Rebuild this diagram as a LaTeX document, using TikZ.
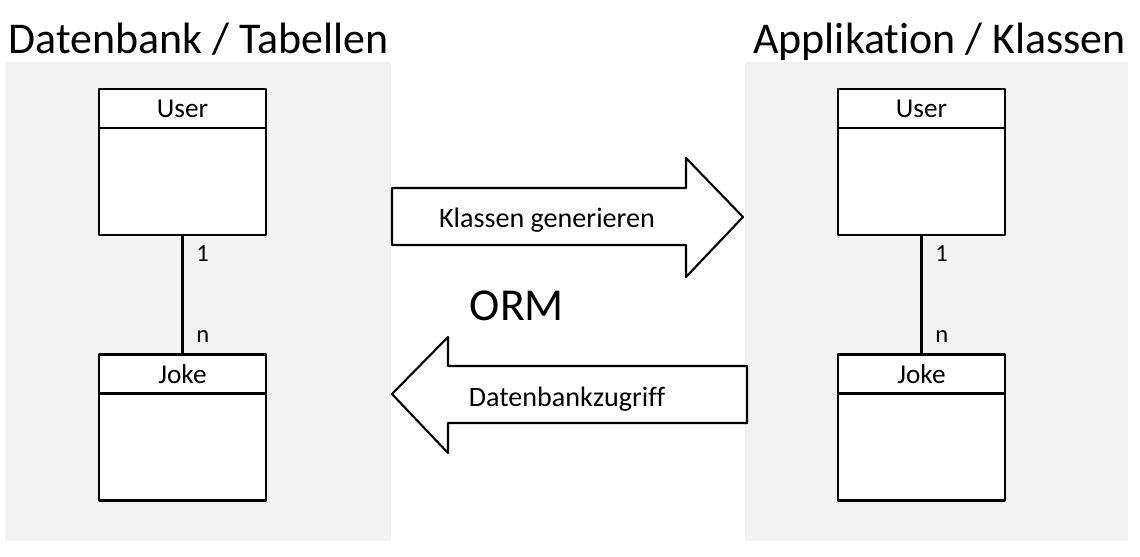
\documentclass[tikz,border=0pt]{standalone}
\usepackage{fontspec}
\setmainfont{Carlito}[Ligatures=NoCommon]
\usepackage{tikz}
\usetikzlibrary{positioning}

\definecolor{panelgray}{HTML}{F2F2F2}

\begin{document}
\begin{tikzpicture}[
	x=0.02cm, y=-0.02cm,
	line cap=round,
	line join=round,
	title/.style={font=\fontsize{25}{25}\selectfont, anchor=base west, inner sep=0pt},
	hdr/.style={draw, fill=white, line width=1.2pt, minimum width=3.34cm, minimum height=0.78cm, inner sep=0pt, outer sep=0pt, font=\fontsize{15.5}{15.5}\selectfont},
	bdy/.style={draw, fill=white, line width=1.2pt, minimum width=3.34cm, minimum height=2.14cm, inner sep=0pt, outer sep=0pt},
	mult/.style={font=\fontsize{14}{14}\selectfont, anchor=base west, inner sep=0pt},
	bigarrow/.style={draw, fill=white, line width=1.2pt},
	arrowlbl/.style={font=\fontsize{16}{16}\selectfont, anchor=base, inner sep=0pt}
	]
	
	\useasboundingbox (0,0) rectangle (1140,556);
	
	% panels
	\fill[panelgray] (5,62) rectangle (391,541);
	\fill[panelgray] (745,62) rectangle (1128,541);
	
	\node[title] (tl) at (8,53) {Datenbank / Tabellen};
	\node[title] (tr) at (753,53) {Applikation / Klassen};
	
	% Tabellen
	\node[hdr] (userL) at (182.5,108.5) {User};
	\node[bdy, below=0pt of userL] (userLb) {};
	\node[hdr] (jokeL) at (182.5,374) {Joke};
	\node[bdy, below=0pt of jokeL] (jokeLb) {};
	\draw[line width=1.2pt] (userLb.south) -- (jokeL.north);
	\node[mult] (oneL) at (196,261) {1};
	\node[mult] (nL) at (196,342) {n};
	
	% Klassen
	\node[hdr] (userR) at (921.5,108.5) {User};
	\node[bdy, below=0pt of userR] (userRb) {};
	\node[hdr] (jokeR) at (921.5,374) {Joke};
	\node[bdy, below=0pt of jokeR] (jokeRb) {};
	\draw[line width=1.2pt] (userRb.south) -- (jokeR.north);
	\node[mult] (oneR) at (935,261) {1};
	\node[mult] (nR) at (935,342) {n};
	
	% ORM arrows
	\draw[bigarrow] (392,188) -- (686,188) -- (686,158) -- (743,217)
		-- (686,277) -- (686,245) -- (392,245) -- cycle;
	\node[arrowlbl] (gen) at (547,227) {Klassen generieren};
	
	\draw[bigarrow] (747,366) -- (448,366) -- (448,337) -- (392,394)
		-- (448,453) -- (448,423) -- (747,423) -- cycle;
	\node[arrowlbl] (zug) at (567,406) {Datenbankzugriff};
	
	\node[font=\fontsize{26}{26}\selectfont, anchor=base] (orm) at (517,320) {ORM};
	
\end{tikzpicture}
\end{document}
